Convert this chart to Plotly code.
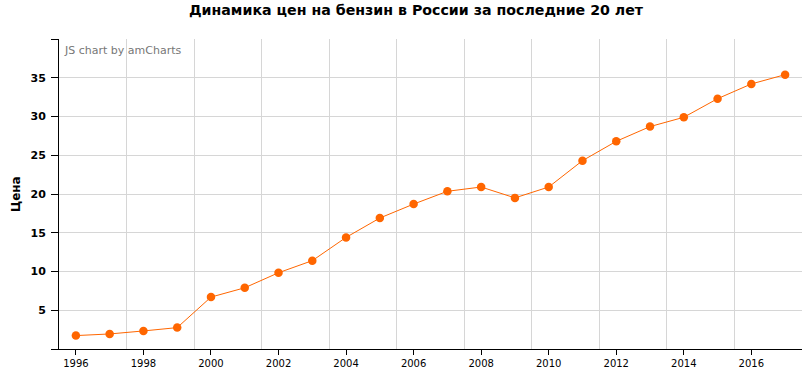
import plotly.graph_objects as go

years = list(range(1996, 2018))
prices = [1.73, 1.94, 2.33, 2.76, 6.7, 7.9, 9.84, 11.4, 14.4, 16.9, 18.7,
          20.35, 20.9, 19.5, 20.9, 24.3, 26.8, 28.7, 29.9, 32.3, 34.2, 35.4]
x_tick_years = list(range(1996, 2017, 2))
x_grid_pos = [y + 1.5 for y in range(1996, 2017, 2)]
y_ticks = [0, 5, 10, 15, 20, 25, 30, 35, 40]
y_ticktext = ["", "5", "10", "15", "20", "25", "30", "35", ""]

title_text = "Динамика цен на бензин в России за последние 20 лет"
y_title = "Цена"
credit = "JS chart by amCharts"

FONT = "DejaVu Sans"
GRID = "#d6d6d6"
ORANGE = "#FF6600"

fig = go.Figure()
fig.add_trace(go.Scatter(
    x=years, y=prices, xaxis="x2", mode="lines", opacity=0,
    hoverinfo="skip", showlegend=False))
fig.add_trace(go.Scatter(
    x=years, y=prices, mode="lines+markers",
    line=dict(color=ORANGE, width=1),
    marker=dict(color=ORANGE, size=8.5),
    showlegend=False))

fig.update_layout(
    width=812, height=380,
    margin=dict(l=59, r=10, t=39, b=31),
    paper_bgcolor="white", plot_bgcolor="white",
    font=dict(family=FONT, color="#000"),
    title=dict(text=title_text, x=416 / 812, xref="container", xanchor="center",
               y=1 - 10 / 380, yref="container", yanchor="middle",
               font=dict(family=FONT, size=14.2, color="#000", weight="bold")),
    xaxis=dict(range=[1995.5, 2017.5], tickmode="array", tickvals=x_tick_years,
               ticks="outside", ticklen=5, tickcolor="#000", tickwidth=1,
               showline=True, linecolor="#000", linewidth=1,
               showgrid=False, zeroline=False,
               tickfont=dict(family=FONT, size=10, color="#000")),
    xaxis2=dict(range=[1995.5, 2017.5], overlaying="x", tickmode="array",
                tickvals=x_grid_pos, showticklabels=False, ticks="",
                showgrid=True, gridcolor=GRID, gridwidth=1, zeroline=False,
                showline=False),
    yaxis=dict(range=[0, 40], tickmode="array", tickvals=y_ticks,
               ticktext=y_ticktext, ticks="outside", ticklen=7,
               tickcolor="#000", tickwidth=1, showline=True, linecolor="#000",
               linewidth=1, showgrid=True, gridcolor=GRID, gridwidth=1,
               zeroline=False, ticklabelstandoff=3,
               tickfont=dict(family=FONT, size=11, color="#000", weight="bold")),
    annotations=[
        dict(text=y_title, textangle=-90, xref="paper", yref="paper",
             x=(16 - 59) / 743, y=0.5, xanchor="center", yanchor="middle",
             showarrow=False,
             font=dict(family=FONT, size=12, color="#000", weight="bold")),
        dict(text=credit, xref="paper", yref="paper",
             x=(62 - 59) / 743, y=(349 - 50) / 310, xanchor="left",
             yanchor="middle", showarrow=False,
             font=dict(family=FONT, size=11, color="#777")),
    ],
)

fig.write_html("out.html", config={"displayModeBar": False},
               post_script="document.body.style.margin='0';document.body.style.padding='0';")
